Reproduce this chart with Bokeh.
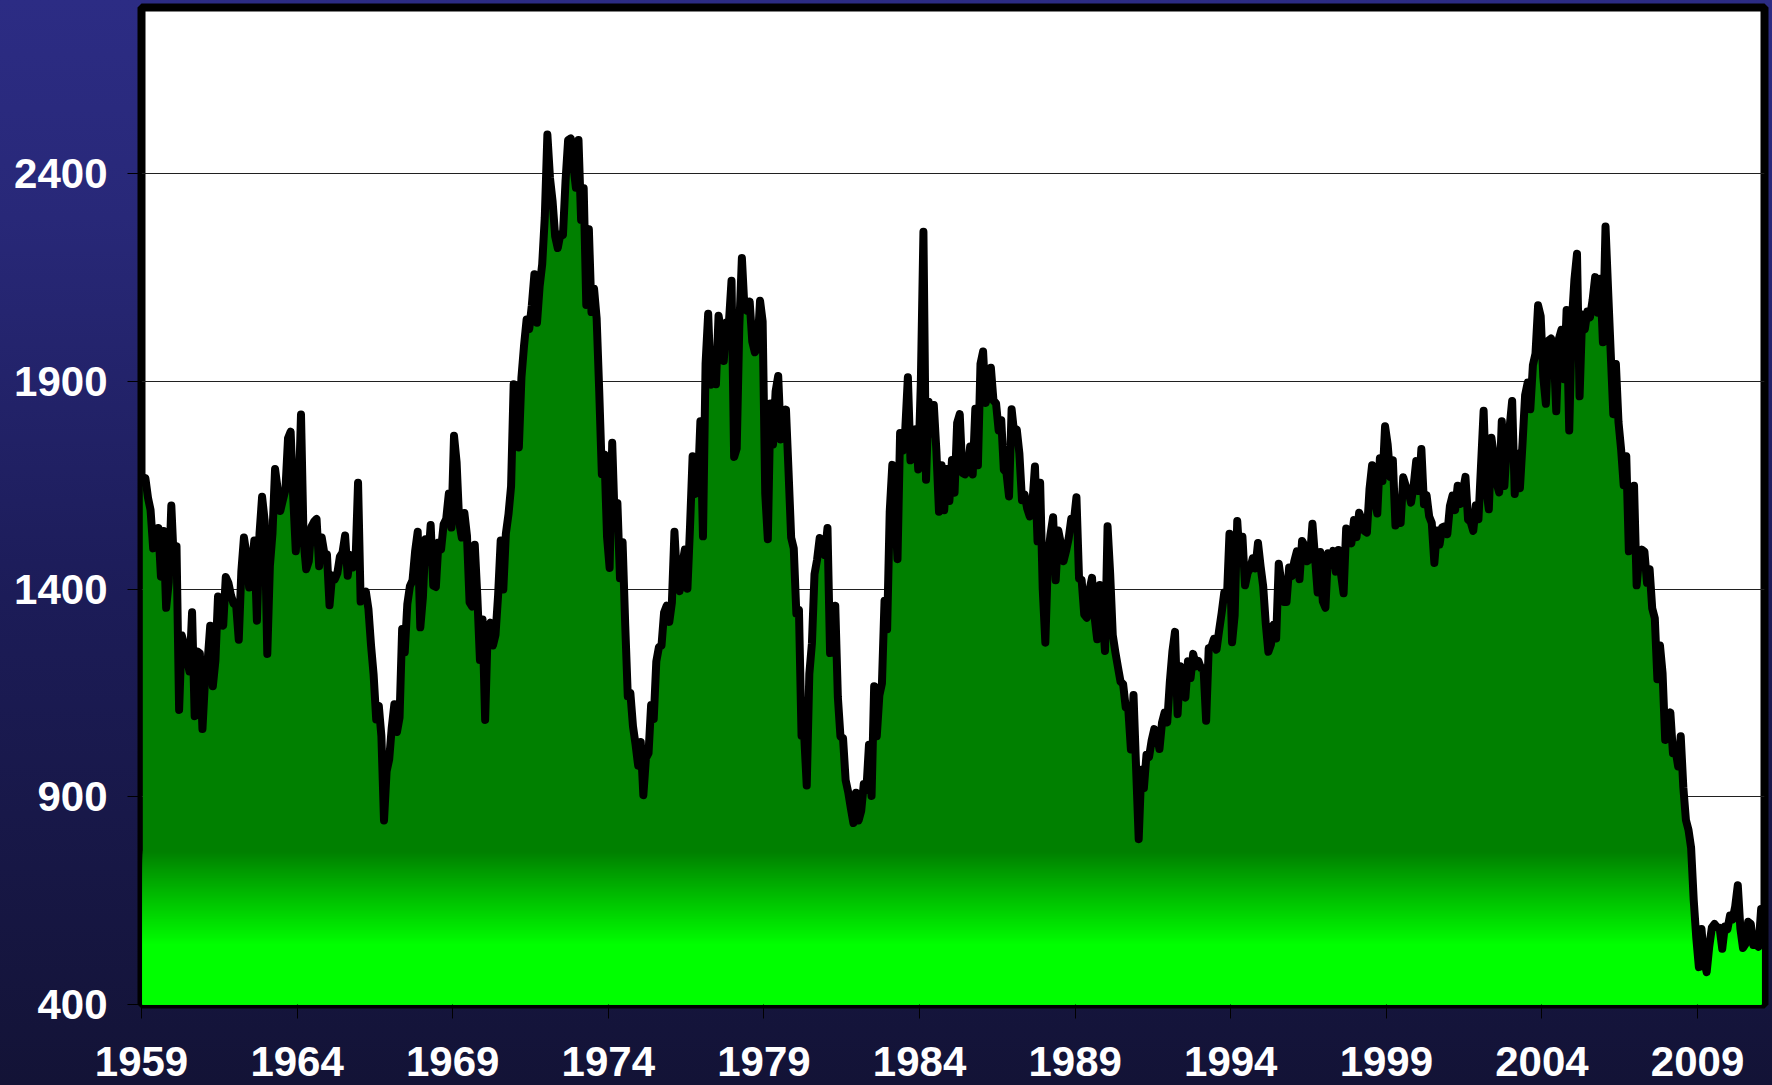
import numpy as np
from bokeh.plotting import figure
from bokeh.models import Range1d, FixedTicker
from bokeh.embed import file_html
from bokeh.resources import INLINE

# Monthly housing starts (thousands, annual rate), Jan 1959 .. Jan 2011
starts_1959_1968 = [
    1657, 1667, 1620, 1590, 1498, 1503, 1547, 1430, 1540, 1355, 1416, 1601,
    1460, 1503, 1109, 1289, 1266, 1231, 1202, 1344, 1094, 1250, 1245, 1063,
    1183, 1226, 1312, 1166, 1228, 1382, 1335, 1312, 1429, 1415, 1385, 1365,
    1361, 1278, 1443, 1524, 1483, 1404, 1450, 1517, 1324, 1533, 1622, 1564,
    1244, 1456, 1534, 1689, 1641, 1588, 1614, 1639, 1763, 1779, 1622, 1491,
    1603, 1820, 1517, 1448, 1467, 1550, 1562, 1569, 1455, 1524, 1486, 1484,
    1361, 1433, 1423, 1438, 1478, 1488, 1529, 1432, 1482, 1452, 1460, 1656,
    1370, 1378, 1394, 1352, 1265, 1194, 1086, 1119, 1046, 843, 961, 990,
    1067, 1123, 1056, 1091, 1304, 1248, 1364, 1407, 1421, 1491, 1538, 1308,
    1380, 1520, 1466, 1554, 1408, 1405, 1512, 1495, 1556, 1569, 1630, 1548,
]
starts_1969_1978 = [
    1769, 1705, 1561, 1524, 1583, 1528, 1368, 1358, 1507, 1381, 1229, 1327,
    1085, 1305, 1319, 1264, 1290, 1385, 1517, 1399, 1534, 1580, 1647, 1893,
    1828, 1741, 1910, 1986, 2049, 2026, 2083, 2158, 2041, 2128, 2182, 2295,
    2494, 2390, 2334, 2249, 2221, 2254, 2252, 2382, 2481, 2485, 2421, 2366,
    2481, 2289, 2365, 2084, 2266, 2067, 2123, 2051, 1874, 1677, 1724, 1526,
    1451, 1752, 1555, 1607, 1426, 1513, 1316, 1142, 1150, 1070, 1026, 975,
    1032, 904, 993, 1005, 1121, 1087, 1226, 1260, 1264, 1344, 1360, 1321,
    1367, 1538, 1421, 1395, 1459, 1495, 1401, 1550, 1720, 1629, 1641, 1804,
    1527, 1943, 2063, 1892, 1971, 1893, 2058, 2020, 1949, 2042, 2042, 2142,
    1718, 1738, 2032, 2197, 2075, 2070, 2092, 1996, 1970, 1981, 2094, 2044,
]
starts_1979_1988 = [
    1630, 1520, 1847, 1748, 1876, 1913, 1760, 1778, 1832, 1681, 1524, 1498,
    1341, 1350, 1047, 1051, 927, 1196, 1269, 1436, 1471, 1523, 1510, 1482,
    1547, 1246, 1306, 1360, 1140, 1045, 1041, 940, 911, 873, 837, 910,
    843, 866, 931, 917, 1025, 902, 1166, 1046, 1144, 1173, 1372, 1303,
    1586, 1699, 1606, 1472, 1776, 1733, 1785, 1910, 1710, 1715, 1785, 1688,
    1897, 2260, 1663, 1851, 1774, 1843, 1732, 1586, 1698, 1590, 1689, 1612,
    1711, 1632, 1800, 1821, 1680, 1676, 1684, 1743, 1676, 1834, 1698, 1942,
    1972, 1848, 1876, 1933, 1854, 1847, 1782, 1807, 1687, 1681, 1623, 1833,
    1774, 1784, 1726, 1614, 1628, 1594, 1575, 1605, 1695, 1515, 1656, 1400,
    1271, 1473, 1532, 1573, 1421, 1541, 1509, 1467, 1492, 1522, 1569, 1563,
]
starts_1989_1998 = [
    1621, 1425, 1422, 1339, 1331, 1397, 1427, 1332, 1279, 1410, 1351, 1251,
    1551, 1437, 1289, 1248, 1212, 1177, 1171, 1115, 1110, 1014, 1145, 969,
    798, 965, 921, 1001, 996, 1036, 1063, 1049, 1015, 1079, 1103, 1079,
    1176, 1250, 1297, 1099, 1214, 1145, 1139, 1226, 1186, 1244, 1214, 1227,
    1210, 1210, 1083, 1258, 1260, 1280, 1254, 1300, 1343, 1392, 1376, 1533,
    1272, 1337, 1564, 1465, 1526, 1409, 1439, 1450, 1474, 1450, 1511, 1455,
    1407, 1316, 1249, 1267, 1314, 1281, 1461, 1416, 1369, 1369, 1452, 1431,
    1467, 1491, 1424, 1516, 1504, 1467, 1472, 1557, 1475, 1392, 1489, 1370,
    1355, 1486, 1457, 1492, 1442, 1494, 1437, 1390, 1546, 1520, 1510, 1566,
    1525, 1584, 1567, 1540, 1536, 1641, 1698, 1614, 1582, 1715, 1660, 1792,
]
starts_1999_2011 = [
    1748, 1670, 1710, 1553, 1611, 1559, 1669, 1648, 1635, 1608, 1648, 1708,
    1636, 1737, 1604, 1626, 1575, 1559, 1463, 1541, 1507, 1549, 1551, 1532,
    1600, 1625, 1590, 1649, 1605, 1636, 1670, 1567, 1562, 1540, 1602, 1568,
    1698, 1829, 1642, 1592, 1764, 1717, 1655, 1633, 1804, 1648, 1753, 1788,
    1853, 1629, 1726, 1643, 1751, 1867, 1897, 1833, 1939, 1967, 2083, 2057,
    1911, 1846, 1998, 2003, 1981, 1828, 2002, 2024, 1905, 2072, 1782, 2042,
    2144, 2207, 1864, 2061, 2025, 2068, 2054, 2095, 2151, 2065, 2147, 1994,
    2273, 2119, 1969, 1821, 1942, 1802, 1737, 1650, 1720, 1491, 1570, 1649,
    1409, 1480, 1495, 1490, 1415, 1448, 1354, 1330, 1183, 1264, 1197, 1037,
    1084, 1103, 1005, 1013, 973, 1046, 923, 844, 820, 777, 652, 560,
    490, 582, 505, 478, 540, 585, 594, 586, 585, 534, 588, 581,
    614, 605, 636, 687, 583, 536, 546, 599, 594, 543, 545, 539,
    630,
]

first_year = 1959
tick_years = [1959, 1964, 1969, 1974, 1979, 1984, 1989, 1994, 1999, 2004, 2009]
y_ticks = [400, 900, 1400, 1900, 2400]
grid_levels = [900, 1400, 1900, 2400]

values = np.array(starts_1959_1968 + starts_1969_1978 + starts_1979_1988
                  + starts_1989_1998 + starts_1999_2011, dtype=float)
months = first_year + (np.arange(len(values)) + 0.5) / 12.0

p = figure(width=1772, height=1085, output_backend="svg", toolbar_location=None,
           x_range=Range1d(1959, 2011.15), y_range=Range1d(400, 2800),
           min_border_left=141, min_border_right=8, min_border_top=7,
           min_border_bottom=81)
p.styles = {"background": "linear-gradient(to bottom, #2c2c84 0%, #282878 20%, #1c1c58 55%, #131336 100%)"}
p.border_fill_color = None
p.background_fill_color = "white"
p.outline_line_color = "black"
p.outline_line_width = 8

# green fill with a vertical gradient near the bottom
dark_g, bright_g = 128, 255
top_level, bottom_level = 770, 545
p.varea(x=months, y1=400, y2=values, fill_color="#008000")
for lv in np.linspace(top_level, bottom_level, 60):
    frac = (top_level - lv) / (top_level - bottom_level)
    g = int(round(dark_g + frac * (bright_g - dark_g)))
    p.varea(x=months, y1=400, y2=np.minimum(values, lv), fill_color="#00%02x00" % g)

p.line(months, values, line_color="black", line_width=8,
       line_join="round", line_cap="round")

p.xaxis.ticker = FixedTicker(ticks=tick_years)
p.xaxis.major_label_overrides = {t: str(t) for t in tick_years}
p.yaxis.ticker = FixedTicker(ticks=y_ticks)
p.yaxis.major_label_overrides = {t: str(t) for t in y_ticks}
for ax in (p.xaxis[0], p.yaxis[0]):
    ax.axis_line_color = None
    ax.major_tick_line_color = "black"
    ax.major_tick_line_width = 1
    ax.major_tick_in = 0
    ax.major_tick_out = 14
    ax.minor_tick_line_color = None
    ax.major_label_text_color = "white"
    ax.major_label_text_font = "Liberation Sans"
    ax.major_label_text_font_style = "bold"
    ax.major_label_text_font_size = "42px"
p.xaxis.major_label_standoff = 28
p.yaxis.major_label_standoff = 20

p.xgrid.grid_line_color = None
p.ygrid.ticker = FixedTicker(ticks=grid_levels)
p.ygrid.grid_line_color = "#202020"
p.ygrid.grid_line_width = 1

open("out.html", "w").write(file_html(p, INLINE))
